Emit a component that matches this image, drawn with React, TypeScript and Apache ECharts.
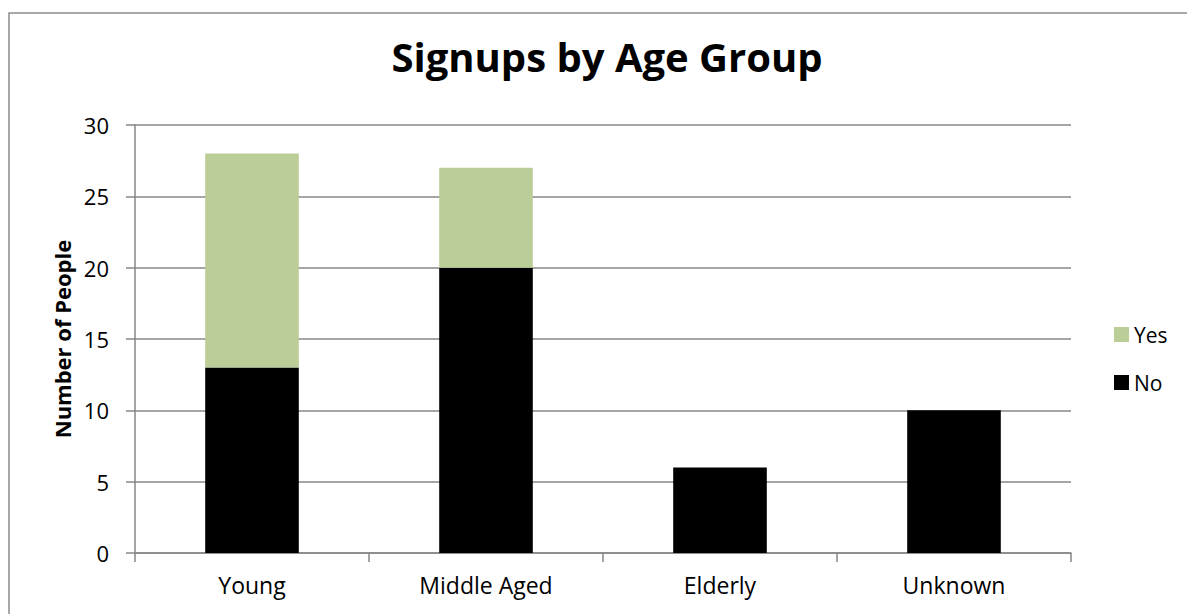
import React, { useEffect, useRef } from "react";
import * as echarts from "echarts";

// Signups per age group, split by whether the person signed up
const ageGroups = ["Young", "Middle Aged", "Elderly", "Unknown"];
const noCounts = [13, 20, 6, 10];
const yesCounts = [15, 7, 0, 0];
const yTicks = { min: 0, max: 30, interval: 5 };

const FONT = "'Open Sans', sans-serif";
const GRID_GRAY = "#878787";

export default function App() {
  const ref = useRef<HTMLDivElement>(null);

  useEffect(() => {
    if (!ref.current) return;
    const chart = echarts.init(ref.current, null, { renderer: "svg" });
    chart.setOption({
      animation: false,
      backgroundColor: "#ffffff",
      textStyle: { fontFamily: FONT },
      title: {
        text: "Signups by Age Group",
        left: 602,
        top: 31,
        textAlign: "center",
        textStyle: { fontFamily: FONT, fontSize: 40, fontWeight: "bold", color: "#000" },
      },
      graphic: [
        {
          type: "rect",
          shape: { x: 9, y: 13, width: 1300, height: 700 },
          style: { fill: "none", stroke: "#8c8c8c", lineWidth: 1.5 },
          silent: true,
        },
      ],
      legend: {
        data: ["Yes", "No"],
        orient: "vertical",
        left: 1109,
        top: 319,
        itemWidth: 15,
        itemHeight: 15,
        itemGap: 27,
        icon: "rect",
        textStyle: { fontFamily: FONT, fontSize: 21, color: "#000" },
      },
      grid: { left: 135, right: 116, top: 125, bottom: 61 },
      xAxis: {
        type: "category",
        data: ageGroups,
        axisLine: { lineStyle: { color: GRID_GRAY, width: 1.5 } },
        axisTick: { show: true, length: 9, lineStyle: { color: GRID_GRAY, width: 1.5 } },
        axisLabel: { color: "#000", fontSize: 23, fontFamily: FONT, margin: 20 },
      },
      yAxis: {
        type: "value",
        min: yTicks.min,
        max: yTicks.max,
        interval: yTicks.interval,
        name: "Number of People",
        nameLocation: "middle",
        nameGap: 62,
        nameTextStyle: { fontFamily: FONT, fontSize: 22, fontWeight: "bold", color: "#000" },
        axisLine: { show: true, lineStyle: { color: GRID_GRAY, width: 1.5 } },
        axisTick: { show: true, length: 9, lineStyle: { color: GRID_GRAY, width: 1.5 } },
        axisLabel: { color: "#000", fontSize: 22, fontFamily: FONT, margin: 26 },
        splitLine: { lineStyle: { color: GRID_GRAY, width: 1.5 } },
      },
      series: [
        {
          name: "No",
          type: "bar",
          stack: "signups",
          data: noCounts,
          barWidth: "40%",
          itemStyle: { color: "#000000" },
        },
        {
          name: "Yes",
          type: "bar",
          stack: "signups",
          data: yesCounts,
          barWidth: "40%",
          itemStyle: { color: "#BBCE97" },
        },
      ],
    });
    return () => chart.dispose();
  }, []);

  return (
    <div
      ref={ref}
      style={{ position: "fixed", left: 0, top: 0, width: 1187, height: 614, background: "#fff" }}
    />
  );
}
